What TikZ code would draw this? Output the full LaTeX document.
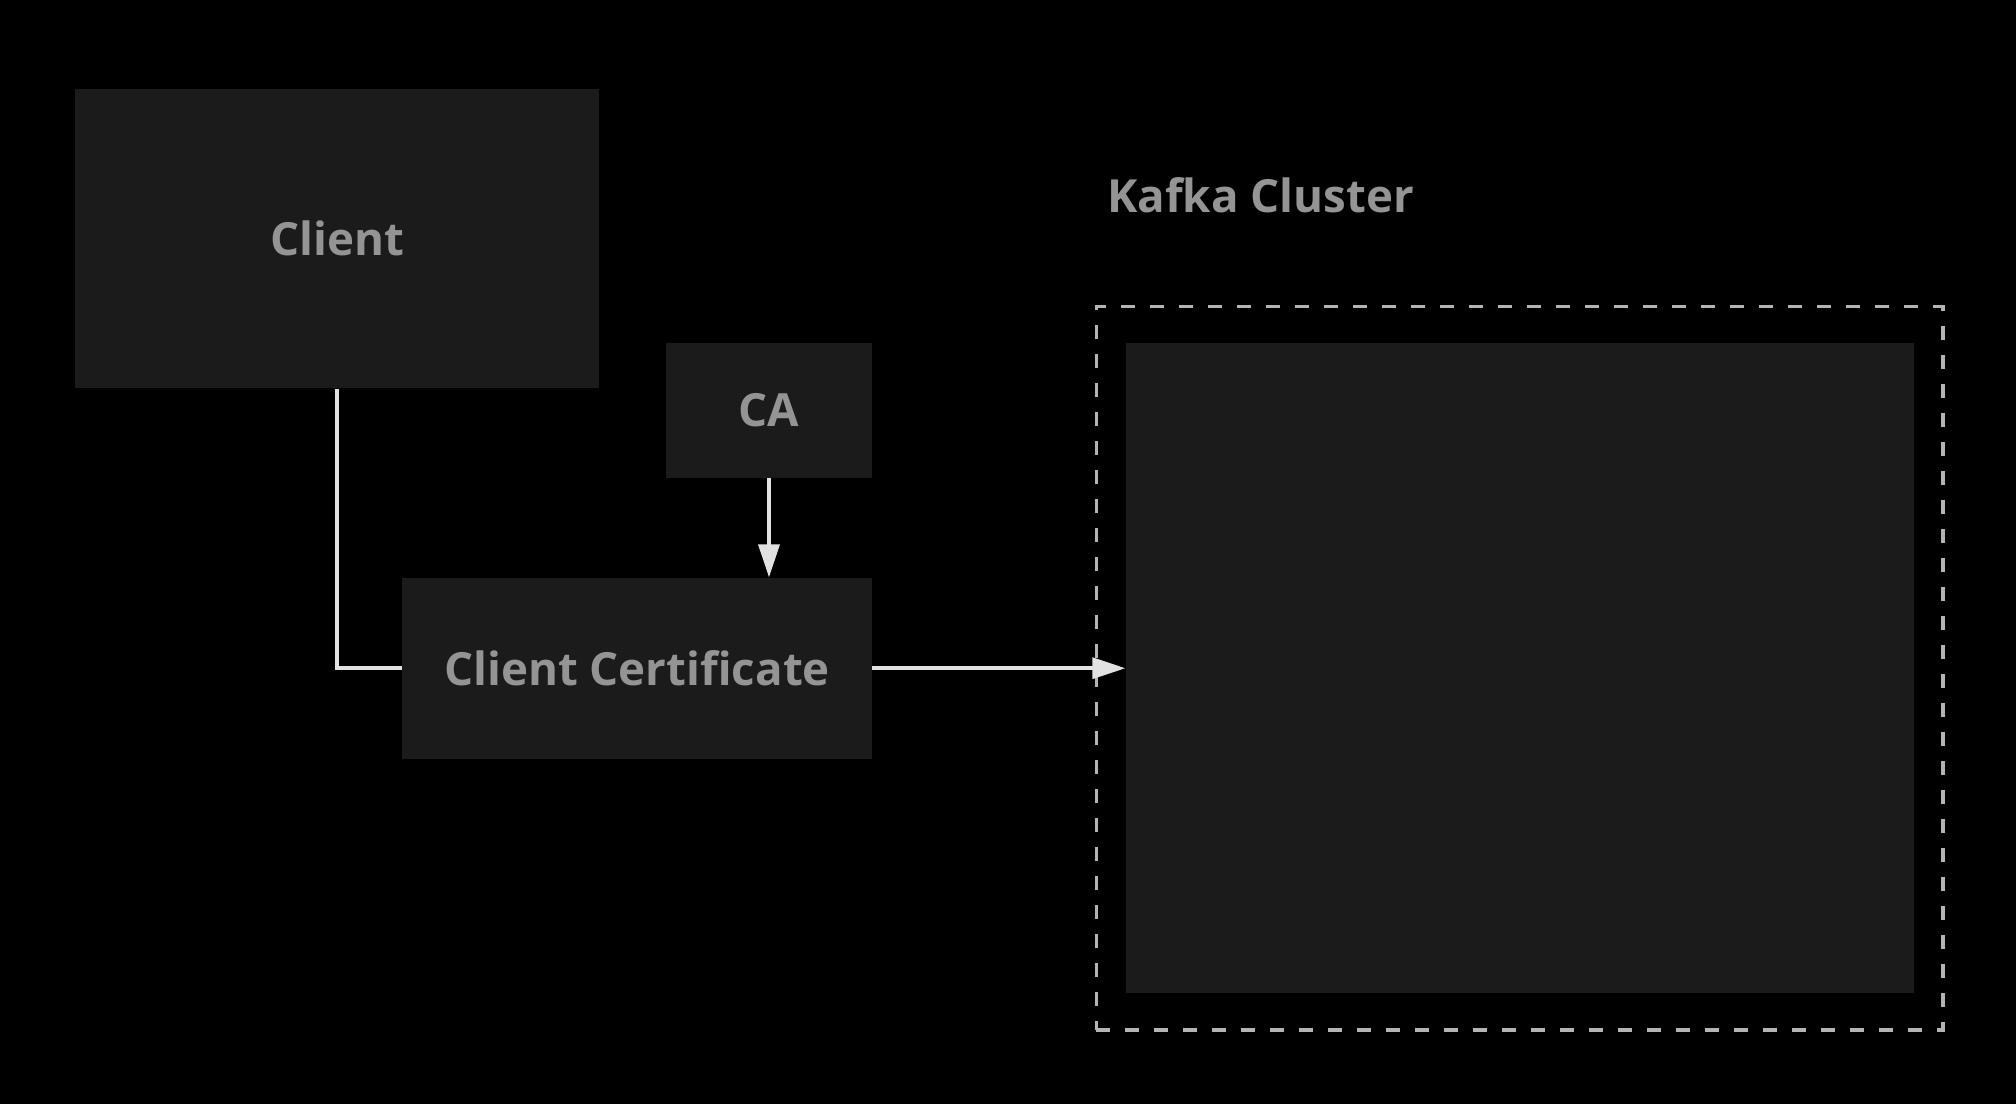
\documentclass[tikz,border=0pt]{standalone}
\usepackage{fontspec}
\setmainfont{Open Sans}
\usepackage{tikz}
\usetikzlibrary{positioning,fit,arrows.meta}
\definecolor{bg}{HTML}{000000}
\definecolor{boxfill}{HTML}{1B1B1B}
\definecolor{boxtext}{HTML}{949494}
\definecolor{wire}{HTML}{E2E2E2}
\definecolor{frame}{HTML}{B4B4B4}
\begin{document}
\begin{tikzpicture}[auto,
        block/.style={rectangle, fill=boxfill, text=boxtext, font=\fontsize{26}{31}\selectfont\bfseries, inner sep=0pt},
        title/.style={text=boxtext, font=\fontsize{26}{31}\selectfont\bfseries, inner sep=0pt},
        line/.style={draw=wire, line width=2pt, -{Triangle[length=0.66cm,width=0.42cm]}},
        wire/.style={draw=wire, line width=2pt}]

        \fill [bg] (0,0) rectangle (40.32,-22.08);
        \useasboundingbox (0,0) rectangle (40.32,-22.08);

        \node [block, minimum width=10.49cm, minimum height=5.99cm] (client) at (6.74,-4.77) {Client};
        \node [block, minimum width=4.12cm, minimum height=2.70cm] (ca) at (15.38,-8.21) {CA};
        \node [block, minimum width=9.40cm, minimum height=3.62cm, below=1.98cm of ca.south east, anchor=north east] (cert) {Client Certificate};
        \node [block, minimum width=15.76cm, minimum height=13.0cm, right=5.06cm of cert] (cluster) {};
        \node [draw=frame, line width=1.8pt, dash pattern=on 0.28cm off 0.3cm, inner xsep=0.58cm, inner ysep=0.73cm, fit=(cluster)] (frame) {};
        \node [title, anchor=base west] (kafka) at (22.14,-4.24) {Kafka Cluster};

        \path [wire] (client.south) |- (cert.west);
        \path [line] (ca) -- (cert.north -| ca);
        \path [line] (cert) -- (cluster);
    \end{tikzpicture}
\end{document}
